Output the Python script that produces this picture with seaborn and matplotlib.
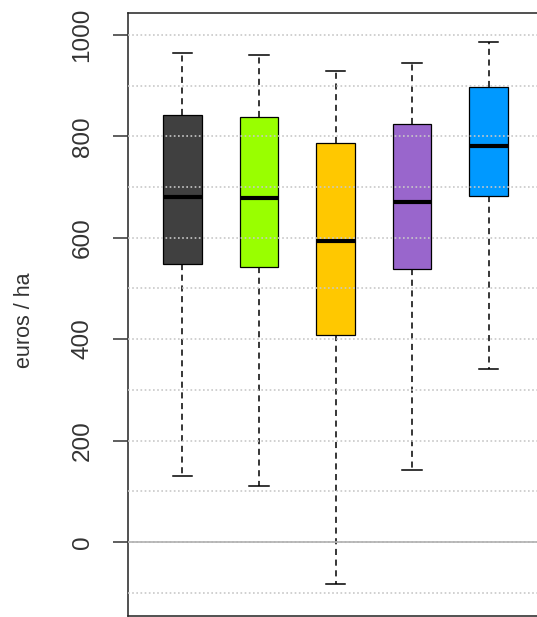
import matplotlib
matplotlib.use("Agg")
import matplotlib.pyplot as plt
import seaborn as sns
import pandas as pd

# five-number summaries (euros / ha)
groups = ["1", "2", "3", "4", "5"]
lower_whisker = [130, 110, -82, 142, 342]
q1 = [549, 543, 409, 539, 683]
median = [681, 678, 594, 671, 780]
q3 = [841, 838, 786, 825, 897]
upper_whisker = [964, 961, 928, 944, 986]
colors = ["#404040", "#99ff00", "#ffc800", "#9966cc", "#0099ff"]

major_ticks = [0, 200, 400, 600, 800, 1000]
minor_ticks = [-100, 100, 300, 500, 700, 900]
ylabel = "euros / ha"

# five points per group give exactly those quartiles, whiskers at min/max
rows = []
for i, g in enumerate(groups):
    for v in [lower_whisker[i], q1[i], median[i], q3[i], upper_whisker[i]]:
        rows.append({"group": g, "value": v})
df = pd.DataFrame(rows)

plt.rcParams["font.family"] = ["Liberation Sans", "DejaVu Sans"]

fig = plt.figure(figsize=(5.37, 6.17), dpi=100)
ax = fig.add_axes([128 / 537, 1 / 617, 415 / 537, 603 / 617])

sns.boxplot(data=df, x="group", y="value", hue="group", palette=colors,
            saturation=1, width=0.5, whis=(0, 100), showfliers=False,
            linecolor="black", linewidth=0.9, legend=False, ax=ax,
            medianprops=dict(linewidth=3, color="black"),
            whiskerprops=dict(linestyle=(0, (4, 3)), linewidth=1.1),
            capprops=dict(linewidth=1.1))

# R style grid: dotted light gray lines on top of the boxes
ax.set_yticks(major_ticks)
ax.set_yticks(minor_ticks, minor=True)
ax.set_axisbelow(False)
ax.grid(True, which="both", axis="y", color="#c8c8c8", linestyle=(0, (1, 1.5)), linewidth=1.2)
ax.axhline(0, color="#b0b0b0", linewidth=1.2, zorder=2.6)

ax.set_xlim(-0.712, 4.712)
ax.set_ylim(-146, 1043)

ax.set_xlabel("")
ax.set_xticks([])
ax.set_ylabel(ylabel, fontsize=15.5, color="#333333")
ax.yaxis.set_label_coords(-0.225, 0.49)

ax.tick_params(axis="y", which="major", length=10.8, width=1.1, color="#333333",
               labelsize=17.5, labelcolor="#333333", pad=14, labelrotation=90)
ax.tick_params(axis="y", which="minor", length=0)
for lab in ax.get_yticklabels():
    lab.set_va("center")

for side in ["left", "top", "bottom", "right"]:
    ax.spines[side].set_color("#222222")
    ax.spines[side].set_linewidth(1.1)

fig.savefig("out.png", dpi=100)
